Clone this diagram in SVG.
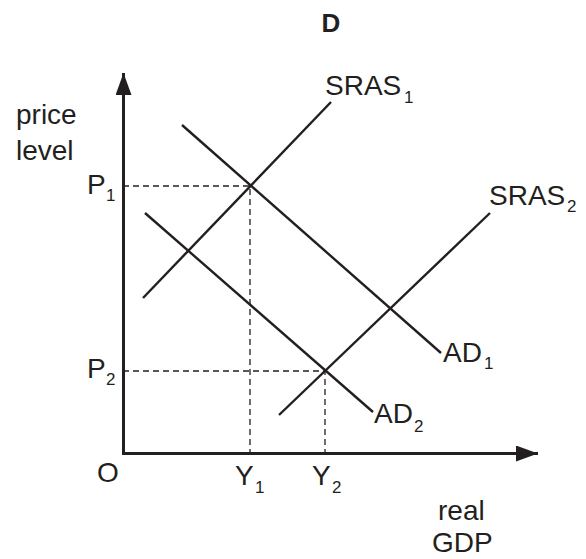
<svg xmlns="http://www.w3.org/2000/svg" width="586" height="559" viewBox="0 0 586 559">
<style>
text{font-family:"Liberation Sans",Arial,Helvetica,sans-serif;fill:#231f20}
.t{font-size:28px}
.s{font-size:17px}
.curve{stroke:#231f20;stroke-width:2.4;fill:none}
.axis{stroke:#231f20;stroke-width:3;fill:none}
.dash{stroke:#231f20;stroke-width:1.3;stroke-dasharray:6,4;fill:none}
</style>
<defs>
<marker id="arr" markerUnits="userSpaceOnUse" markerWidth="24" markerHeight="18" refX="22" refY="8" orient="auto">
<path d="M0,0 L22,8 L0,16 Z" fill="#231f20"/>
</marker>
</defs>
<rect width="586" height="559" fill="#fff"/>
<text x="331" y="32" text-anchor="middle" style="font-size:26px;font-weight:bold">D</text>
<g id="connectors">
<path class="dash" d="M123,186 H250 V453"/>
<path class="dash" d="M123,371 H325 V453"/>
</g>
<g id="axes">
<path class="axis" d="M123.5,453.5 V73" marker-end="url(#arr)"/>
<path class="axis" d="M122,453.5 H538" marker-end="url(#arr)"/>
</g>
<g id="SRAS1">
<line class="curve" x1="143" y1="298" x2="331" y2="102"/>
<text class="t" x="325" y="95">SRAS</text><text class="s" x="404" y="103">1</text>
</g>
<g id="SRAS2">
<line class="curve" x1="279" y1="415" x2="490" y2="213"/>
<text class="t" x="489" y="205">SRAS</text><text class="s" x="567" y="212">2</text>
</g>
<g id="AD1">
<line class="curve" x1="182" y1="125" x2="441" y2="353"/>
<text class="t" x="443" y="362">AD</text><text class="s" x="484" y="369">1</text>
</g>
<g id="AD2">
<line class="curve" x1="145" y1="213" x2="373" y2="412"/>
<text class="t" x="374" y="423">AD</text><text class="s" x="414" y="432">2</text>
</g>
<g id="labels">
<text class="t" x="16" y="124">price</text>
<text class="t" x="16" y="160">level</text>
<text class="t" x="87" y="194">P</text><text class="s" x="106" y="201">1</text>
<text class="t" x="87" y="378">P</text><text class="s" x="106" y="385">2</text>
<text class="t" x="97" y="482">O</text>
<text class="t" x="235" y="485">Y</text><text class="s" x="255" y="493">1</text>
<text class="t" x="312" y="485">Y</text><text class="s" x="332" y="493">2</text>
<text class="t" x="438" y="520">real</text>
<text class="t" x="432" y="552">GDP</text>
</g>
</svg>
